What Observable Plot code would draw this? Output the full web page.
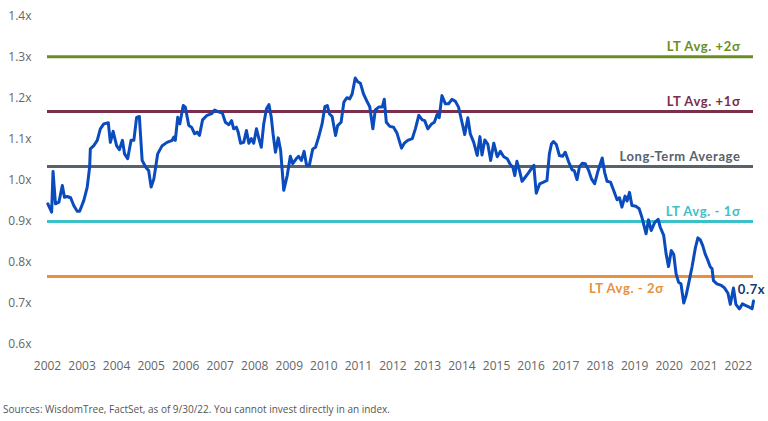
<!DOCTYPE html>
<html>
<head>
<meta charset="utf-8">
<script src="https://cdn.jsdelivr.net/npm/d3@7"></script>
<script src="https://cdn.jsdelivr.net/npm/@observablehq/plot@0.6"></script>
<style>
  html, body { margin: 0; padding: 0; background: #fff; }
  #chart { width: 768px; }
  .caption { font-family: "Open Sans", sans-serif; font-size: 10px; color: #555; margin: 6px 0 0 3px; }
  .reflabel text { letter-spacing: 0.6px; }
</style>
</head>
<body>
<div id="chart"></div>
<script>
const years = [2002.01,2002.12,2002.16,2002.23,2002.33,2002.43,2002.49,2002.57,2002.67,2002.76,2002.86,2002.93,2003.05,2003.15,2003.22,2003.24,2003.34,2003.44,2003.53,2003.63,2003.76,2003.82,2003.90,2004.00,2004.08,2004.17,2004.23,2004.32,2004.42,2004.50,2004.58,2004.66,2004.74,2004.84,2004.93,2005.00,2005.08,2005.19,2005.32,2005.46,2005.61,2005.66,2005.70,2005.77,2005.83,2005.93,2005.99,2006.09,2006.17,2006.26,2006.33,2006.40,2006.49,2006.62,2006.75,2006.84,2006.96,2007.06,2007.15,2007.25,2007.33,2007.39,2007.47,2007.52,2007.59,2007.68,2007.76,2007.83,2007.90,2007.97,2008.05,2008.12,2008.19,2008.26,2008.34,2008.41,2008.48,2008.53,2008.60,2008.68,2008.75,2008.84,2008.94,2009.03,2009.10,2009.20,2009.27,2009.35,2009.43,2009.50,2009.58,2009.68,2009.76,2009.85,2009.95,2010.03,2010.10,2010.16,2010.24,2010.34,2010.40,2010.50,2010.58,2010.67,2010.75,2010.82,2010.91,2010.98,2011.06,2011.15,2011.25,2011.33,2011.42,2011.49,2011.59,2011.69,2011.75,2011.81,2011.91,2012.02,2012.12,2012.25,2012.33,2012.43,2012.56,2012.65,2012.75,2012.85,2012.92,2013.01,2013.11,2013.20,2013.28,2013.34,2013.42,2013.52,2013.61,2013.71,2013.81,2013.90,2014.00,2014.08,2014.17,2014.24,2014.34,2014.44,2014.52,2014.58,2014.66,2014.75,2014.83,2014.92,2015.02,2015.11,2015.21,2015.31,2015.40,2015.47,2015.53,2015.59,2015.66,2015.74,2015.83,2015.93,2016.01,2016.08,2016.15,2016.25,2016.36,2016.46,2016.53,2016.59,2016.65,2016.73,2016.82,2016.91,2016.99,2017.09,2017.19,2017.25,2017.33,2017.40,2017.48,2017.57,2017.67,2017.75,2017.84,2017.94,2018.06,2018.13,2018.20,2018.30,2018.39,2018.49,2018.56,2018.63,2018.72,2018.78,2018.85,2018.92,2019.04,2019.13,2019.21,2019.33,2019.40,2019.48,2019.58,2019.68,2019.74,2019.84,2019.91,2019.98,2020.06,2020.13,2020.20,2020.27,2020.34,2020.42,2020.49,2020.56,2020.66,2020.76,2020.83,2020.90,2020.97,2021.04,2021.12,2021.19,2021.24,2021.28,2021.38,2021.51,2021.60,2021.70,2021.77,2021.86,2021.93,2022.03,2022.12,2022.22,2022.32,2022.40,2022.44];
const multiples = [0.943,0.923,1.022,0.943,0.947,0.988,0.959,0.961,0.958,0.939,0.925,0.925,0.951,0.984,1.033,1.077,1.085,1.098,1.126,1.138,1.141,1.093,1.120,1.085,1.075,1.098,1.065,1.053,1.098,1.098,1.154,1.156,1.049,1.033,1.024,0.984,1.004,1.065,1.085,1.093,1.098,1.106,1.098,1.154,1.138,1.183,1.179,1.134,1.130,1.114,1.118,1.110,1.148,1.159,1.163,1.172,1.167,1.165,1.142,1.136,1.146,1.126,1.130,1.118,1.091,1.093,1.122,1.091,1.102,1.091,1.126,1.102,1.081,1.138,1.175,1.185,1.154,1.114,1.069,1.104,1.073,0.976,1.012,1.059,1.041,1.053,1.059,1.049,1.071,1.037,1.037,1.077,1.081,1.106,1.138,1.180,1.183,1.163,1.156,1.110,1.134,1.142,1.191,1.202,1.199,1.211,1.250,1.241,1.237,1.211,1.193,1.180,1.126,1.172,1.179,1.179,1.198,1.142,1.132,1.130,1.115,1.079,1.091,1.098,1.102,1.126,1.159,1.148,1.146,1.126,1.137,1.142,1.161,1.153,1.207,1.187,1.187,1.198,1.193,1.179,1.142,1.112,1.153,1.114,1.093,1.061,1.107,1.062,1.099,1.088,1.049,1.091,1.058,1.071,1.058,1.053,1.039,1.033,1.012,1.047,1.026,0.998,1.008,1.019,1.029,1.037,0.969,0.992,0.996,1.000,1.065,1.089,1.095,1.088,1.061,1.059,1.069,1.045,1.026,1.024,1.002,1.033,1.042,1.041,1.024,1.004,0.992,1.024,1.055,1.020,0.998,0.996,0.976,0.953,0.958,0.935,0.962,0.950,0.971,0.939,0.937,0.931,0.910,0.870,0.904,0.878,0.898,0.905,0.886,0.866,0.821,0.790,0.829,0.820,0.772,0.752,0.748,0.701,0.720,0.748,0.789,0.837,0.860,0.855,0.841,0.821,0.805,0.789,0.785,0.756,0.748,0.744,0.738,0.725,0.698,0.738,0.698,0.687,0.699,0.695,0.691,0.687,0.706];

const refLabels = ["LT Avg. +2σ", "LT Avg. +1σ", "Long-Term Average", "LT Avg. - 1σ", "LT Avg. - 2σ"];
const refValues = [1.302, 1.168, 1.034, 0.900, 0.766];
const yTicks = [0.6, 0.7, 0.8, 0.9, 1.0, 1.1, 1.2, 1.3, 1.4];
const xTicks = d3.range(2002, 2023);
const captionText = "Sources: WisdomTree, FactSet, as of 9/30/22. You cannot invest directly in an index.";

const series = years.map((x, i) => ({x, y: multiples[i]}));
const refs = refLabels.map((label, i) => ({label, value: refValues[i]}));
const xEnd = years[years.length - 1];
const last = series[series.length - 1];
const refColors = ["#6b8e23", "#7a2e4c", "#58626b", "#3cc0c9", "#ea8f3c"];

const upperRefs = refs.slice(0, 4);
const lowerRefs = refs.slice(4);

const chart = Plot.plot({
  width: 768,
  height: 396,
  marginLeft: 47,
  marginRight: 15,
  marginTop: 16,
  marginBottom: 52,
  style: {fontFamily: "'Open Sans', sans-serif", fontSize: "12px", color: "#666", background: "#fff"},
  x: {domain: [2002, xEnd], ticks: xTicks, tickFormat: d => String(d), tickSize: 0, tickPadding: 17, label: null},
  y: {domain: [0.6, 1.4], ticks: yTicks, tickFormat: d => d.toFixed(1) + "x", tickSize: 0, tickPadding: 16, label: null},
  color: {domain: refLabels, range: refColors},
  marks: [
    Plot.ruleY(refs, {y: "value", stroke: "label", strokeWidth: 3}),
    Plot.line(series, {x: "x", y: "y", stroke: "#0a4bbd", strokeWidth: 3, strokeLinejoin: "round"}),
    Plot.text(upperRefs, {x: xEnd, y: "value", text: "label", fill: "label", textAnchor: "end", dx: -13, dy: -10,
      fontFamily: "Lato, sans-serif", fontWeight: "bold", fontSize: 13, className: "reflabel"}),
    Plot.text(lowerRefs, {x: 2018.76, y: "value", text: "label", fill: "label", textAnchor: "middle", dy: 12,
      fontFamily: "Lato, sans-serif", fontWeight: "bold", fontSize: 13, className: "reflabel"}),
    Plot.text([last], {x: "x", y: "y", text: d => d.y.toFixed(1) + "x", fill: "#17386e", textAnchor: "middle", dx: -2, dy: -11,
      fontFamily: "Lato, sans-serif", fontWeight: "bold", fontSize: 13, className: "reflabel"})
  ]
});
document.getElementById("chart").appendChild(chart);
const cap = document.createElement("div");
cap.className = "caption";
cap.textContent = captionText;
document.getElementById("chart").appendChild(cap);
</script>
</body>
</html>
